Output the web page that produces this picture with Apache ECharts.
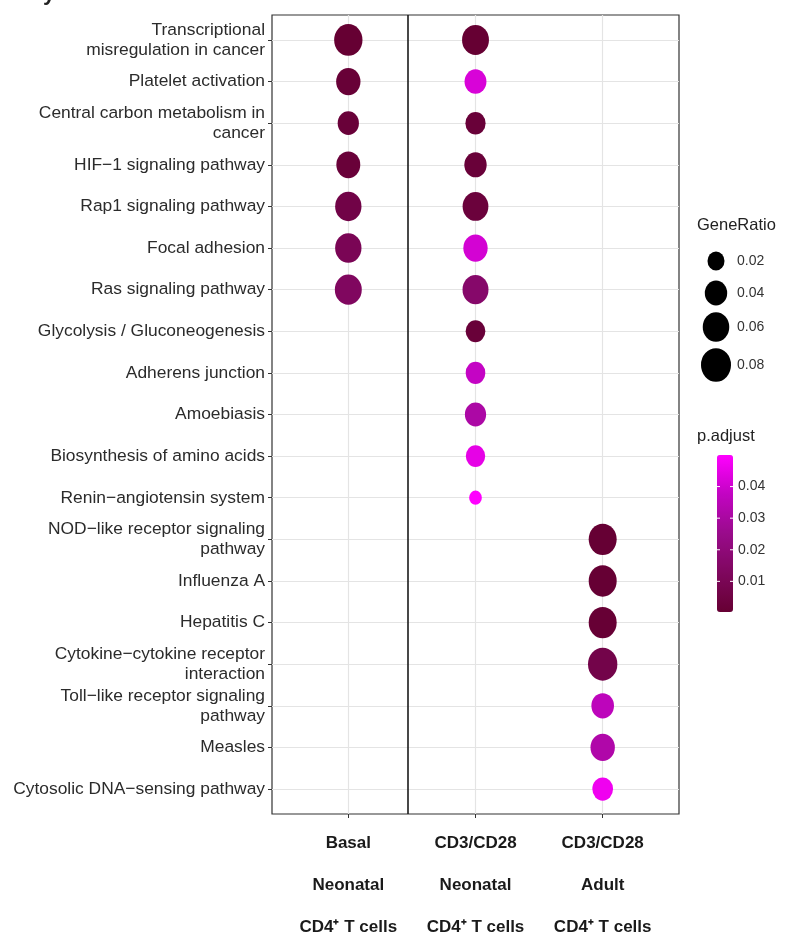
<!DOCTYPE html>
<html>
<head>
<meta charset="utf-8">
<title>KEGG pathway enrichment</title>
<script src="https://cdn.jsdelivr.net/npm/echarts@6/dist/echarts.min.js"></script>
<style>
  html, body { margin: 0; padding: 0; background: #fff; }
  #chart { width: 785px; height: 938px; }
</style>
</head>
<body>
<div id="chart"></div>
<script>
// Enriched KEGG pathways, listed top to bottom
const pathways = [
  'Transcriptional\nmisregulation in cancer',
  'Platelet activation',
  'Central carbon metabolism in\ncancer',
  'HIF\u22121 signaling pathway',
  'Rap1 signaling pathway',
  'Focal adhesion',
  'Ras signaling pathway',
  'Glycolysis / Gluconeogenesis',
  'Adherens junction',
  'Amoebiasis',
  'Biosynthesis of amino acids',
  'Renin\u2212angiotensin system',
  'NOD\u2212like receptor signaling\npathway',
  'Influenza A',
  'Hepatitis C',
  'Cytokine\u2212cytokine receptor\ninteraction',
  'Toll\u2212like receptor signaling\npathway',
  'Measles',
  'Cytosolic DNA\u2212sensing pathway'
];

// Cell groups (x axis), one entry per text line
const groupStimulus = ['Basal', 'CD3/CD28', 'CD3/CD28'];
const groupDonor = ['Neonatal', 'Neonatal', 'Adult'];
const groupCell = ['CD4\u207a T cells', 'CD4\u207a T cells', 'CD4\u207a T cells'];

// GeneRatio per pathway (null = not enriched)
const ratioBasalNeonatal = [0.070, 0.049, 0.035, 0.047, 0.059, 0.059, 0.062,
  null, null, null, null, null, null, null, null, null, null, null, null];
const ratioStimNeonatal = [0.062, 0.038, 0.031, 0.040, 0.056, 0.049, 0.057,
  0.029, 0.029, 0.035, 0.028, 0.009, null, null, null, null, null, null, null];
const ratioStimAdult = [null, null, null, null, null, null, null,
  null, null, null, null, null, 0.068, 0.068, 0.068, 0.076, 0.041, 0.049, 0.033];

// Adjusted p-values per pathway
const padjBasalNeonatal = [0.0003, 0.0015, 0.002, 0.002, 0.006, 0.010, 0.013,
  null, null, null, null, null, null, null, null, null, null, null, null];
const padjStimNeonatal = [0.0003, 0.042, 0.002, 0.002, 0.003, 0.041, 0.016,
  0.002, 0.038, 0.031, 0.045, 0.050, null, null, null, null, null, null, null];
const padjStimAdult = [null, null, null, null, null, null, null,
  null, null, null, null, null, 0.0005, 0.0005, 0.001, 0.007, 0.036, 0.032, 0.047];

// Legend breaks
const ratioBreaks = [0.02, 0.04, 0.06, 0.08];
const padjTicks = [0.01, 0.02, 0.03, 0.04];

// Position of the divider between the basal and stimulated panels
const dividerX = 1.47;

const ratioSets = [ratioBasalNeonatal, ratioStimNeonatal, ratioStimAdult];
const padjSets = [padjBasalNeonatal, padjStimNeonatal, padjStimAdult];

const points = [];
ratioSets.forEach((ratios, g) => {
  ratios.forEach((r, i) => {
    if (r != null) points.push([g + 1, i + 1, r, padjSets[g][i], pathways[i]]);
  });
});

const allPadj = points.map(p => p[3]);
const padjMin = Math.min(...allPadj);
const padjMax = Math.max(...allPadj);

// Dot width grows with the square root of the gene ratio; dots are slightly taller than wide
const ASPECT = 1.12;
const dotWidth = r => 4 + 92 * Math.sqrt(r);

const FONT = "'Liberation Sans', Arial, sans-serif";
const gradient = ['#660033', '#7f075e', '#990b8b', '#c204c2', '#ff00ff'];

// Legend layout
const sizeLegendX = 716;
const sizeLegendRows = [261, 293, 327, 365];
const barLeft = 717, barTop = 455, barW = 16, barH = 157;

const graphics = [];
// clipped letter of the panel heading above the chart
graphics.push({
  type: 'text', left: 43, top: -17,
  style: { text: 'y', font: 'bold 22px ' + FONT, fill: '#222' }
});
graphics.push({
  type: 'text', left: 697, top: 217,
  style: { text: 'GeneRatio', font: '16.5px ' + FONT, fill: '#222' }
});
ratioBreaks.forEach((r, k) => {
  const w = dotWidth(r);
  graphics.push({
    type: 'circle', x: sizeLegendX, y: sizeLegendRows[k], scaleY: ASPECT,
    shape: { cx: 0, cy: 0, r: w / 2 },
    style: { fill: '#000' }
  });
  graphics.push({
    type: 'text', x: 737, y: sizeLegendRows[k],
    style: { text: r.toFixed(2), font: '14px ' + FONT, fill: '#333', verticalAlign: 'middle' }
  });
});
graphics.push({
  type: 'text', left: 697, top: 428,
  style: { text: 'p.adjust', font: '16.5px ' + FONT, fill: '#222' }
});
padjTicks.forEach(v => {
  const y = barTop + barH - (v - padjMin) / (padjMax - padjMin) * barH;
  graphics.push({
    type: 'line', shape: { x1: barLeft, y1: y, x2: barLeft + 3, y2: y },
    style: { stroke: '#fff', lineWidth: 1 }, z: 100
  });
  graphics.push({
    type: 'line', shape: { x1: barLeft + barW - 3, y1: y, x2: barLeft + barW, y2: y },
    style: { stroke: '#fff', lineWidth: 1 }, z: 100
  });
  graphics.push({
    type: 'text', x: 738, y: y,
    style: { text: v.toFixed(2), font: '14px ' + FONT, fill: '#333', verticalAlign: 'middle' }
  });
});

const rowValues = pathways.map((_, i) => i + 1);
const colValues = groupStimulus.map((_, g) => g + 1);

const chart = echarts.init(document.getElementById('chart'), null, { renderer: 'canvas' });
chart.setOption({
  animation: false,
  backgroundColor: '#fff',
  grid: {
    left: 272, top: 15, width: 407, height: 799,
    show: true, borderColor: '#333', borderWidth: 1.2, backgroundColor: '#fff'
  },
  xAxis: {
    type: 'value', min: 0.4, max: 3.6,
    axisLine: { show: false },
    splitLine: { show: false },
    axisTick: { show: true, customValues: colValues, length: 4, lineStyle: { color: '#333' } },
    axisLabel: {
      customValues: colValues,
      margin: 8,
      formatter: v => {
        const g = Math.round(v) - 1;
        return '{b|' + groupStimulus[g] + '}\n{b|' + groupDonor[g] + '}\n{b|' + groupCell[g] + '}';
      },
      rich: {
        b: { fontFamily: FONT, fontWeight: 'bold', fontSize: 17, color: '#1a1a1a', lineHeight: 42 }
      }
    }
  },
  yAxis: {
    type: 'value', min: 0.4, max: 19.6, inverse: true,
    axisLine: { show: false },
    splitLine: { show: false },
    axisTick: { show: true, customValues: rowValues, length: 4, lineStyle: { color: '#333' } },
    axisLabel: {
      customValues: rowValues,
      margin: 7,
      fontFamily: FONT, fontSize: 17.4, color: '#2b2b2b', lineHeight: 20, align: 'right',
      formatter: v => pathways[Math.round(v) - 1]
    }
  },
  visualMap: {
    type: 'continuous',
    seriesIndex: 1,
    dimension: 3,
    min: padjMin, max: padjMax,
    calculable: false,
    hoverLink: false,
    orient: 'vertical',
    left: barLeft, top: barTop,
    itemWidth: barW, itemHeight: barH,
    padding: 0,
    text: null,
    showLabel: false,
    inRange: { color: gradient }
  },
  graphic: graphics,
  series: [
    {
      // panel grid lines and the panel divider
      type: 'scatter',
      data: [[0, 0]],
      symbolSize: 0,
      silent: true,
      z: 1,
      markLine: {
        silent: true,
        symbol: 'none',
        label: { show: false },
        animation: false,
        lineStyle: { color: '#e4e4e4', width: 1.2, type: 'solid' },
        data: [
          ...colValues.map(x => ({ xAxis: x })),
          ...rowValues.map(y => ({ yAxis: y })),
          { xAxis: dividerX, lineStyle: { color: '#1a1a1a', width: 1.6, type: 'solid' } }
        ]
      }
    },
    {
      name: 'pathways',
      type: 'scatter',
      z: 5,
      data: points,
      symbol: 'circle',
      symbolSize: val => [dotWidth(val[2]), dotWidth(val[2]) * ASPECT],
      itemStyle: { opacity: 1 }
    }
  ]
});
</script>
</body>
</html>
